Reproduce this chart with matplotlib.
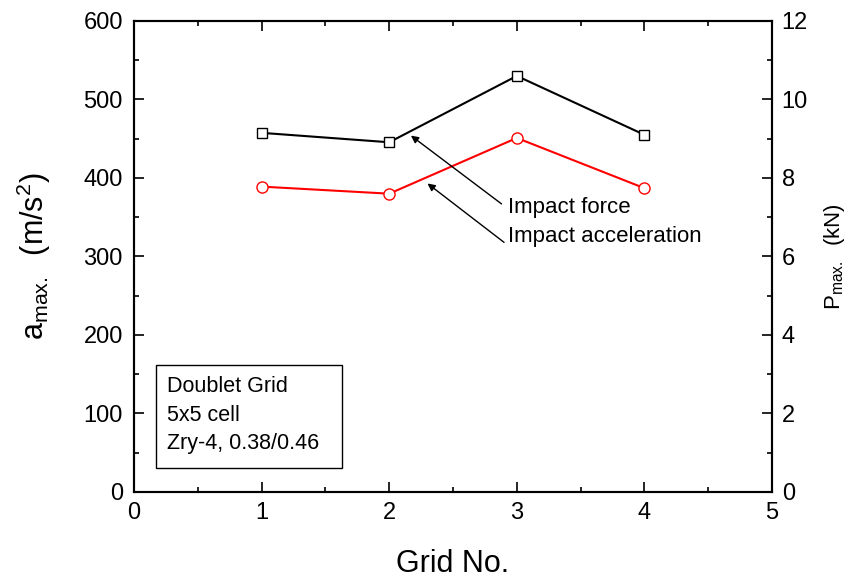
import matplotlib
matplotlib.use("Agg")
import matplotlib.pyplot as plt
from matplotlib.ticker import MultipleLocator

plt.rcParams['font.family'] = ['Liberation Sans', 'DejaVu Sans']
plt.rcParams['mathtext.fontset'] = 'custom'
plt.rcParams['mathtext.rm'] = 'Liberation Sans'
plt.rcParams['mathtext.it'] = 'Liberation Sans'

# numero de rejilla
grid_no = [1, 2, 3, 4]
# aceleracion maxima de impacto (m/s^2), eje izquierdo
accel = [389, 380, 451, 387]
# fuerza maxima de impacto (kN), eje derecho
force = [9.15, 8.91, 10.6, 9.1]

fig = plt.figure(figsize=(8.51, 5.78), dpi=100)
ax = fig.add_axes([0.1575, 0.1488, 0.7497, 0.8149])
ax2 = ax.twinx()

ax.plot(grid_no, accel, color='red', lw=1.5, marker='o', ms=8,
        mfc='white', mec='red', mew=1.0)
ax2.plot(grid_no, force, color='black', lw=1.5, marker='s', ms=7,
         mfc='white', mec='black', mew=1.0)

ax.set_xlim(0, 5)
ax.set_ylim(0, 600)
ax2.set_ylim(0, 12)

ax.xaxis.set_major_locator(MultipleLocator(1))
ax.xaxis.set_minor_locator(MultipleLocator(0.5))
ax.yaxis.set_major_locator(MultipleLocator(100))
ax.yaxis.set_minor_locator(MultipleLocator(50))
ax2.yaxis.set_major_locator(MultipleLocator(2))
ax2.yaxis.set_minor_locator(MultipleLocator(1))

for a in (ax, ax2):
    a.tick_params(which='major', direction='in', length=7.5, width=1.2, labelsize=17)
    a.tick_params(which='minor', direction='in', length=3.8, width=1.2)
    for s in a.spines.values():
        s.set_linewidth(1.5)
ax.tick_params(axis='x', which='both', top=True, pad=7)
ax.tick_params(axis='y', pad=8)
ax2.tick_params(axis='y', pad=7)

ax.set_xlabel('Grid No.', fontsize=22, labelpad=18)
ax.set_ylabel(r'a$_{\mathrm{max.}}$  (m/s$^2$)', fontsize=22, labelpad=22)
ax2.set_ylabel(r'P$_{\mathrm{max.}}$  (kN)', fontsize=16, labelpad=10)

# flechas y etiquetas
arrow = dict(arrowstyle='-|>', color='black', lw=1.0,
             mutation_scale=11, shrinkA=0, shrinkB=0)
ax.annotate('', xy=(2.17, 454), xytext=(2.88, 367), arrowprops=arrow)
ax.annotate('', xy=(2.30, 393), xytext=(2.90, 318), arrowprops=arrow)
ax.text(2.93, 362, 'Impact force', fontsize=16, va='center', ha='left')
ax.text(2.93, 325, 'Impact acceleration', fontsize=16, va='center', ha='left')

# cuadro de descripcion
ax.add_patch(plt.Rectangle((0.17, 31), 1.46, 131, fill=False,
                           edgecolor='black', lw=1.0, zorder=3))
ax.text(0.26, 134, 'Doublet Grid', fontsize=15.5, va='center')
ax.text(0.26, 98, '5x5 cell', fontsize=15.5, va='center')
ax.text(0.26, 62, 'Zry-4, 0.38/0.46', fontsize=15.5, va='center')

fig.savefig('out.png', dpi=100)
